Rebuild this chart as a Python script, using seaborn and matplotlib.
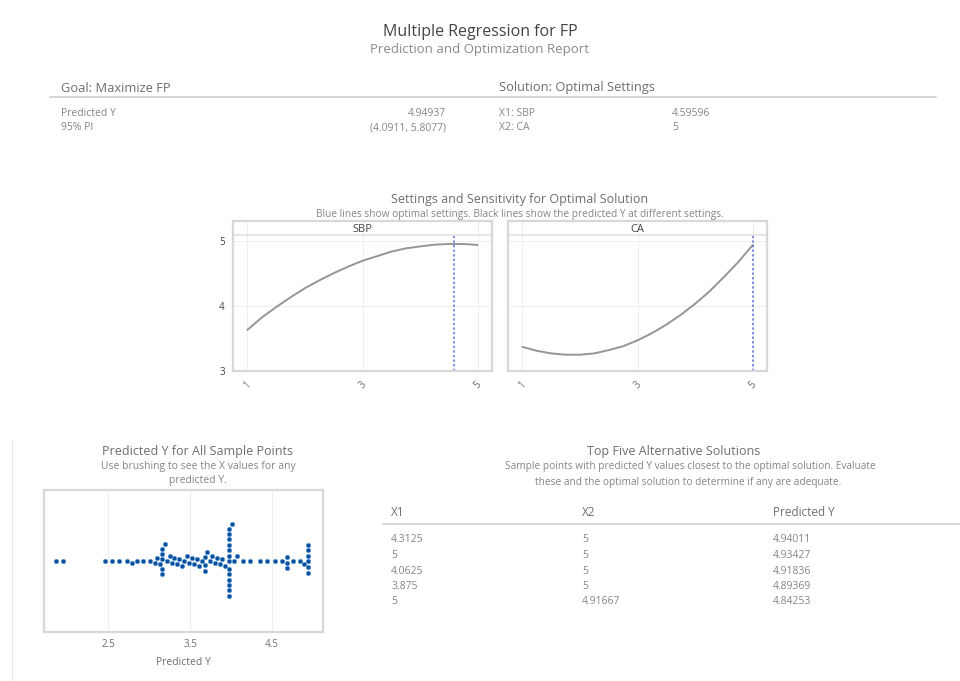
import numpy as np
import pandas as pd
import matplotlib
matplotlib.use("Agg")
import matplotlib.pyplot as plt
from matplotlib.lines import Line2D
import seaborn as sns

# ---------------- data ----------------
title = "Multiple Regression for FP"
subtitle = "Prediction and Optimization Report"
predicted_y = "4.94937"
pi_95 = "(4.0911, 5.8077)"
factor_names = ["SBP", "CA"]
factor_labels = ["X1: SBP", "X2: CA"]
optimal_settings = [4.59596, 5]
optimal_text = ["4.59596", "5"]

setting_x = [1.0, 1.25, 1.5, 1.75, 2.0, 2.25, 2.5, 2.75, 3.0,
             3.25, 3.5, 3.75, 4.0, 4.25, 4.5, 4.75, 5.0]
sbp_pred = [3.63, 3.82, 3.98, 4.13, 4.27, 4.39, 4.50, 4.60, 4.69,
            4.76, 4.83, 4.88, 4.91, 4.937, 4.948, 4.947, 4.933]
ca_pred = [3.37, 3.31, 3.27, 3.25, 3.25, 3.27, 3.32, 3.38, 3.47,
           3.58, 3.71, 3.86, 4.03, 4.22, 4.44, 4.67, 4.93]
setting_ticks = [1, 3, 5]
setting_ticklabels = ["1", "3", "5"]
y_ticks = [3, 4, 5]

sample_values = [1.87, 1.95, 2.46, 2.55, 2.63, 2.73, 2.79, 2.85, 2.93, 3.01,
                 3.07, 3.10, 3.13, 3.16, 3.19, 3.22, 3.25, 3.28, 3.31, 3.34,
                 3.37, 3.40, 3.43, 3.46, 3.49, 3.52, 3.55, 3.58, 3.61, 3.64,
                 3.68, 3.71, 3.74, 3.77, 3.80, 3.83, 3.86, 3.89, 3.92, 3.97,
                 4.01, 4.04, 4.07, 4.15, 4.23, 4.35, 4.44, 4.54, 4.62, 4.68,
                 4.76, 4.84, 4.89, 4.94]
sample_counts = [1, 1, 1, 1, 1, 1, 1, 1, 1, 1,
                 1, 1, 1, 5, 1, 1, 1, 1, 1, 1,
                 1, 1, 1, 1, 1, 1, 1, 1, 1, 1,
                 3, 1, 1, 1, 1, 1, 1, 1, 1, 13,
                 1, 1, 1, 1, 1, 1, 1, 1, 1, 3,
                 1, 1, 1, 6]
pred_ticks = [2.5, 3.5, 4.5]

alt_x1 = ["4.3125", "5", "4.0625", "3.875", "5"]
alt_x2 = ["5", "5", "5", "5", "4.91667"]
alt_pred = ["4.94011", "4.93427", "4.91836", "4.89369", "4.84253"]

# ---------------- style ----------------
sns.set_theme(style="white")
plt.rcParams["font.family"] = ["Open Sans", "DejaVu Sans"]

W, H = 960, 681
fig = plt.figure(figsize=(W / 100, H / 100), dpi=100)
fig.patch.set_facecolor("white")

DARK = "#444444"
MID = "#6e6e6e"
LIGHT = "#858585"


def txt(x, y, s, size=7.5, color=LIGHT, ha="left", weight="normal"):
    fig.text(x / W, 1 - y / H, s, fontsize=size, color=color, ha=ha,
             va="center", weight=weight)


def hline(x0, x1, y, color="#d6d6d6", lw=1.4):
    fig.add_artist(Line2D([x0 / W, x1 / W], [1 - y / H, 1 - y / H],
                          transform=fig.transFigure, color=color, lw=lw))


# header
txt(480, 32, title, size=11.5, color=DARK, ha="center")
txt(480, 50, subtitle, size=9.5, color="#8a8a8a", ha="center")

txt(61, 88, "Goal: Maximize FP", size=9.3, color=MID)
txt(499, 88, "Solution: Optimal Settings", size=9.3, color=MID)
hline(50, 936, 97)
txt(61, 113, "Predicted Y")
txt(446, 113, predicted_y, ha="right")
txt(61, 128, "95% PI")
txt(446, 128, pi_95, ha="right")
for i, (lab, val) in enumerate(zip(factor_labels, optimal_text)):
    txt(499, 113 + 15 * i, lab)
    txt(672, 113 + 15 * i, val)

# sensitivity section
txt(520, 199, "Settings and Sensitivity for Optimal Solution", size=9, color=MID, ha="center")
txt(520, 215, "Blue lines show optimal settings. Black lines show the predicted Y at different settings.",
    size=7.3, color=LIGHT, ha="center")

panel_lefts = [233, 508]
panel_series = [sbp_pred, ca_pred]
for k in range(2):
    left = panel_lefts[k]
    ax = fig.add_axes([left / W, 1 - 371 / H, 259 / W, 150 / H])
    df = pd.DataFrame({"x": setting_x, "y": panel_series[k]})
    sns.lineplot(data=df, x="x", y="y", ax=ax, color="#959595", lw=1.4)
    ax.set_xlim(0.75, 5.25)
    ax.set_ylim(3.0, 5.3)
    ax.vlines(optimal_settings[k], 3.0, 5.08, colors="#5d6fd6",
              linestyles=(0, (1.5, 1.5)), lw=1.1)
    ax.axhline(5.08, color="#e2e2e2", lw=1.2)
    ax.text(3.0, 5.17, factor_names[k], ha="center", va="center",
            fontsize=8, color=DARK)
    ax.set_xticks(setting_ticks)
    ax.set_xticklabels(setting_ticklabels, rotation=45, fontsize=7, color=MID)
    ax.set_yticks(y_ticks)
    if k == 0:
        ax.set_yticklabels([str(v) for v in y_ticks], fontsize=7, color=DARK)
    else:
        ax.set_yticklabels([])
    ax.tick_params(length=0, pad=6)
    ax.grid(True, color="#eeeeee", lw=0.8)
    ax.set_xlabel("")
    ax.set_ylabel("")
    for sp in ax.spines.values():
        sp.set_color("#d8d8d8")
        sp.set_linewidth(1.6)

# predicted Y for all sample points
txt(198, 451, "Predicted Y for All Sample Points", size=9, color=MID, ha="center")
txt(198, 466, "Use brushing to see the X values for any", size=7.5, color=LIGHT, ha="center")
txt(198, 481, "predicted Y.", size=7.5, color=LIGHT, ha="center")

vals = np.repeat(sample_values, sample_counts)
sdf = pd.DataFrame({"Predicted Y": vals, "grp": ["all"] * len(vals)})
ax3 = fig.add_axes([44 / W, 1 - 632 / H, 279 / W, 142 / H])
sns.swarmplot(data=sdf, x="Predicted Y", y="grp", orient="h", ax=ax3,
              size=3.3, color="#0c4f9c", edgecolor="#6aa6dd", linewidth=0.4,
              warn_thresh=1.0)
ax3.set_xlim(1.72, 5.12)
ax3.set_ylim(0.5, -0.5)
ax3.set_xticks(pred_ticks)
ax3.set_xticklabels([str(v) for v in pred_ticks], fontsize=7, color=MID)
ax3.set_yticks([])
ax3.set_ylabel("")
ax3.set_xlabel("Predicted Y", fontsize=7.5, color=MID, labelpad=5)
ax3.tick_params(length=0, pad=5)
ax3.grid(True, axis="x", color="#eeeeee", lw=0.8)
ax3.set_axisbelow(True)
for sp in ax3.spines.values():
    sp.set_color("#d8d8d8")
    sp.set_linewidth(1.6)

fig.add_artist(Line2D([12 / W, 12 / W], [0, 1 - 440 / H],
                      transform=fig.transFigure, color="#ececec", lw=1))

# top five alternative solutions
txt(674, 451, "Top Five Alternative Solutions", size=9, color=MID, ha="center")
txt(690, 467, "Sample points with predicted Y values closest to the optimal solution. Evaluate",
    size=7.3, color=LIGHT, ha="center")
txt(688, 483, "these and the optimal solution to determine if any are adequate.",
    size=7.3, color=LIGHT, ha="center")

txt(391, 513, "X1", size=8.5, color=MID)
txt(582, 513, "X2", size=8.5, color=MID)
txt(773, 513, "Predicted Y", size=8.5, color=MID)
hline(383, 960, 524)
for i in range(len(alt_x1)):
    yy = 540 + 15.5 * i
    txt(391, yy, alt_x1[i])
    txt(582, yy, alt_x2[i])
    txt(773, yy, alt_pred[i])

fig.savefig("out.png", dpi=100, facecolor="white")
